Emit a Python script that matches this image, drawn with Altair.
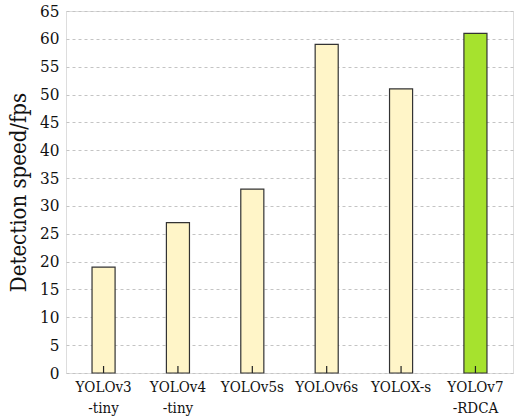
import altair as alt
import pandas as pd

models = ["YOLOv3|-tiny", "YOLOv4|-tiny", "YOLOv5s", "YOLOv6s", "YOLOX-s", "YOLOv7|-RDCA"]
fps = [19, 27, 33, 59, 51, 61]
fill_colors = ["#fff5c8", "#fff5c8", "#fff5c8", "#fff5c8", "#fff5c8", "#a6e22e"]

df = pd.DataFrame({"model": models, "fps": fps, "color": fill_colors})

W, H = 447, 362
LABEL_FONT = "DejaVu Serif Condensed"

x_enc = alt.X(
    "model:N",
    sort=models,
    scale=alt.Scale(paddingInner=0.69, paddingOuter=0.35),
    axis=alt.Axis(
        title=None,
        labelExpr="split(datum.label, '|')",
        labelAngle=0,
        labelFont=LABEL_FONT,
        labelFontSize=15,
        labelColor="#111111",
        labelPadding=6,
        labelLineHeight=21,
        ticks=False,
        domain=False,
    ),
)

bars = alt.Chart(df).mark_bar(stroke="#333333", strokeWidth=1.2).encode(
    x=x_enc,
    y=alt.Y(
        "fps:Q",
        scale=alt.Scale(domain=[0, 65], nice=False),
        axis=alt.Axis(
            title="Detection speed/fps",
            titleFont=LABEL_FONT,
            titleFontSize=22,
            titleFontWeight="normal",
            titleColor="#111111",
            titlePadding=9,
            values=list(range(0, 66, 5)),
            labelFont=LABEL_FONT,
            labelFontSize=17,
            labelColor="#111111",
            labelPadding=7,
            ticks=False,
            domain=False,
            grid=True,
            gridDash=[3, 3],
            gridColor="#c4c4c4",
            gridWidth=1,
        ),
    ),
    fill=alt.Fill("color:N", scale=None),
)

# small inward tick marks along the bottom at each category
ticks = alt.Chart(df).mark_rule(color="#222222", strokeWidth=1.2).encode(
    x=alt.X("model:N", sort=models),
    y=alt.value(H),
    y2=alt.value(H - 7),
)

chart = (
    alt.layer(bars, ticks)
    .properties(
        width=W,
        height=H,
        autosize=alt.AutoSizeParams(type="none"),
        padding={"left": 66, "top": 11, "right": 2, "bottom": 47},
    )
    .configure_view(stroke="#000000", strokeWidth=1.8, fill="white")
    .configure(background="white")
)

chart.save("out.html", embed_options={"renderer": "svg", "actions": False})
